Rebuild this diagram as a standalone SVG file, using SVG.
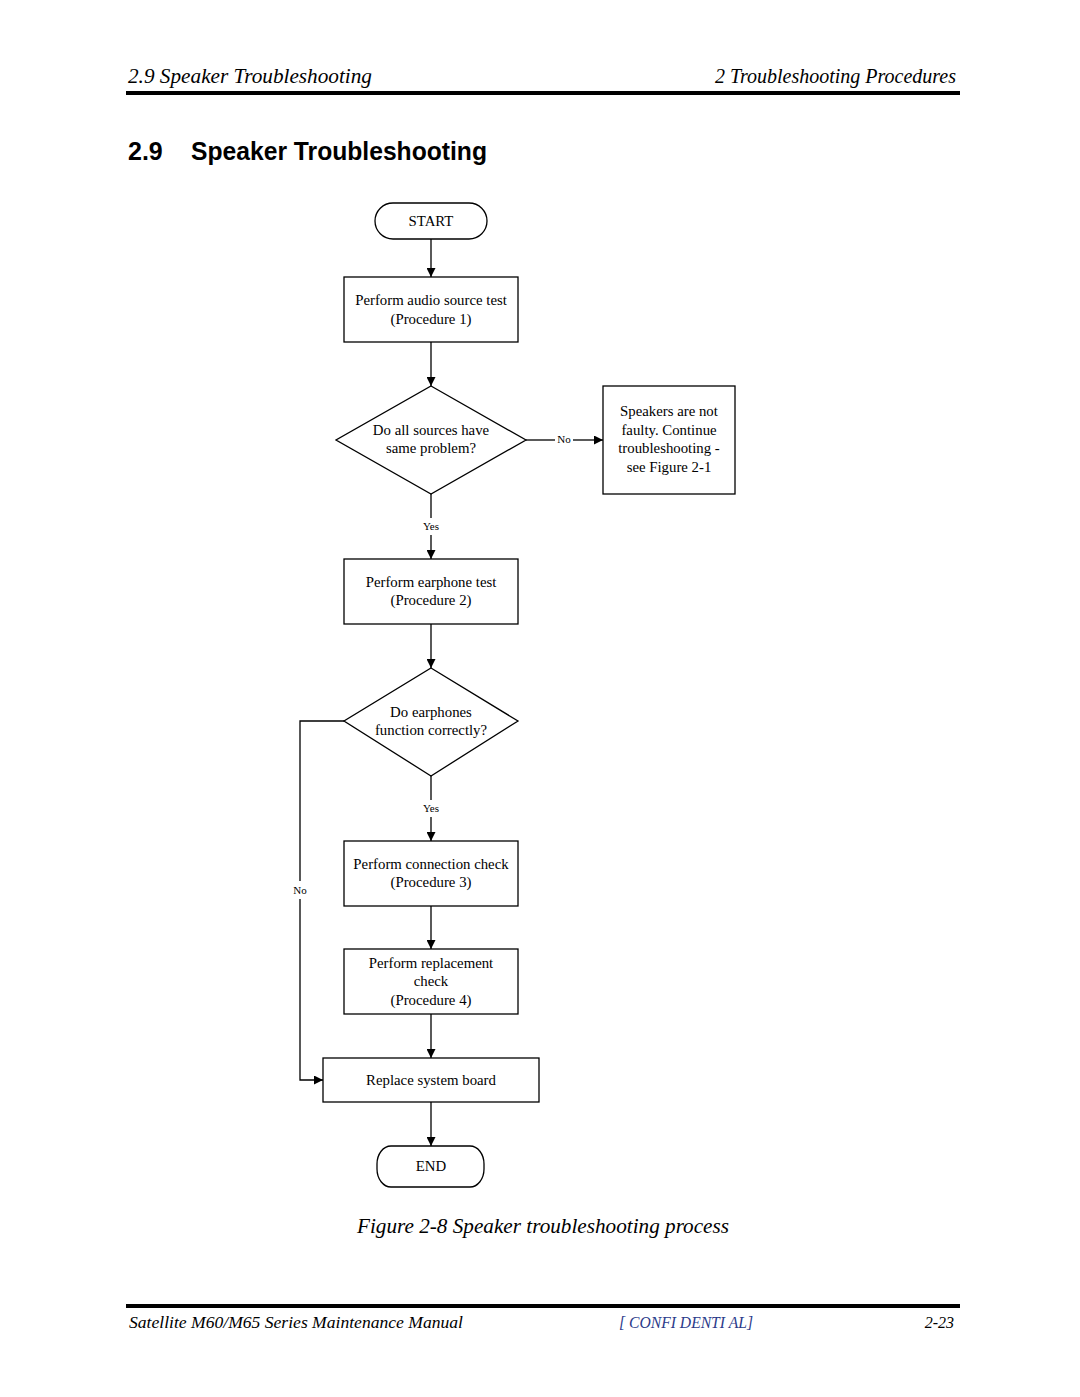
<svg xmlns="http://www.w3.org/2000/svg" width="1080" height="1397" viewBox="0 0 1080 1397">
<style>
.hdr{font-family:"Liberation Serif",serif;font-style:italic;font-size:20px;fill:#000}
.ttl{font-family:"Liberation Sans",Arial,sans-serif;font-weight:bold;font-size:25px;fill:#000}
.t{font-family:"Liberation Serif",serif;font-size:14.8px;fill:#000;text-anchor:middle}
.s{font-family:"Liberation Serif",serif;font-size:11px;fill:#000;text-anchor:middle}
.shape{fill:#fff;stroke:#000;stroke-width:1.3}
.ln{fill:none;stroke:#000;stroke-width:1.3}
.ftr{font-family:"Liberation Serif",serif;font-style:italic;font-size:16px;fill:#000}
</style>
<defs>
<marker id="ah" viewBox="0 0 10 10" refX="10" refY="5" markerWidth="10" markerHeight="9" markerUnits="userSpaceOnUse" orient="auto">
<path d="M0,0 L10,5 L0,10 Z" fill="#000"/>
</marker>
</defs>
<rect width="1080" height="1397" fill="#fff"/>
<text class="hdr" x="128" y="83" textLength="244" lengthAdjust="spacingAndGlyphs">2.9 Speaker Troubleshooting</text>
<text class="hdr" x="956" y="83" text-anchor="end">2 Troubleshooting Procedures</text>
<rect x="126" y="91" width="834" height="4" fill="#000"/>
<text class="ttl" x="128" y="160">2.9</text>
<text class="ttl" x="191" y="160" textLength="296" lengthAdjust="spacingAndGlyphs">Speaker Troubleshooting</text>

<g id="connectors">
<line class="ln" x1="431" y1="239" x2="431" y2="277" marker-end="url(#ah)"/>
<line class="ln" x1="431" y1="342" x2="431" y2="386" marker-end="url(#ah)"/>
<polyline class="ln" points="526,440 555,440"/>
<line class="ln" x1="573" y1="440" x2="603" y2="440" marker-end="url(#ah)"/>
<text class="s" x="564" y="443">No</text>
<line class="ln" x1="431" y1="494" x2="431" y2="518"/>
<text class="s" x="431" y="530">Yes</text>
<line class="ln" x1="431" y1="535" x2="431" y2="559" marker-end="url(#ah)"/>
<line class="ln" x1="431" y1="624" x2="431" y2="668" marker-end="url(#ah)"/>
<line class="ln" x1="431" y1="776" x2="431" y2="800"/>
<text class="s" x="431" y="812">Yes</text>
<line class="ln" x1="431" y1="817" x2="431" y2="841" marker-end="url(#ah)"/>
<polyline class="ln" points="344,721 300,721 300,881"/>
<text class="s" x="300" y="894">No</text>
<polyline class="ln" points="300,899 300,1080 323,1080" marker-end="url(#ah)"/>
<line class="ln" x1="431" y1="906" x2="431" y2="949" marker-end="url(#ah)"/>
<line class="ln" x1="431" y1="1014" x2="431" y2="1058" marker-end="url(#ah)"/>
<line class="ln" x1="431" y1="1102" x2="431" y2="1146" marker-end="url(#ah)"/>
</g>

<g id="start">
<rect class="shape" x="375" y="203" width="112" height="36" rx="18" ry="18"/>
<text class="t" x="431" y="226">START</text>
</g>
<g id="proc1">
<rect class="shape" x="344" y="277" width="174" height="65"/>
<text class="t" x="431" y="305">Perform audio source test</text>
<text class="t" x="431" y="324">(Procedure 1)</text>
</g>
<g id="dec1">
<polygon class="shape" points="431,386 526,440 431,494 336,440"/>
<text class="t" x="431" y="435">Do all sources have</text>
<text class="t" x="431" y="453">same problem?</text>
</g>
<g id="notfaulty">
<rect class="shape" x="603" y="386" width="132" height="108"/>
<text class="t" x="669" y="416">Speakers are not</text>
<text class="t" x="669" y="435">faulty. Continue</text>
<text class="t" x="669" y="453">troubleshooting -</text>
<text class="t" x="669" y="472">see Figure 2-1</text>
</g>
<g id="proc2">
<rect class="shape" x="344" y="559" width="174" height="65"/>
<text class="t" x="431" y="587">Perform earphone test</text>
<text class="t" x="431" y="605">(Procedure 2)</text>
</g>
<g id="dec2">
<polygon class="shape" points="431,668 518,721 431,776 344,721"/>
<text class="t" x="431" y="717">Do earphones</text>
<text class="t" x="431" y="735">function correctly?</text>
</g>
<g id="proc3">
<rect class="shape" x="344" y="841" width="174" height="65"/>
<text class="t" x="431" y="869">Perform connection check</text>
<text class="t" x="431" y="887">(Procedure 3)</text>
</g>
<g id="proc4">
<rect class="shape" x="344" y="949" width="174" height="65"/>
<text class="t" x="431" y="968">Perform replacement</text>
<text class="t" x="431" y="986">check</text>
<text class="t" x="431" y="1005">(Procedure 4)</text>
</g>
<g id="replace">
<rect class="shape" x="323" y="1058" width="216" height="44"/>
<text class="t" x="431" y="1085">Replace system board</text>
</g>
<g id="end">
<rect class="shape" x="377" y="1146" width="107" height="41" rx="14" ry="18"/>
<text class="t" x="431" y="1171">END</text>
</g>

<text x="543" y="1233" text-anchor="middle" font-family="Liberation Serif, serif" font-style="italic" font-size="21" textLength="372" lengthAdjust="spacingAndGlyphs">Figure 2-8 Speaker troubleshooting process</text>
<rect x="126" y="1304" width="834" height="4" fill="#000"/>
<text class="ftr" x="129" y="1328" textLength="334" lengthAdjust="spacingAndGlyphs">Satellite M60/M65 Series Maintenance Manual</text>
<text class="ftr" x="686" y="1328" text-anchor="middle" style="fill:#2b3a8a" textLength="134" lengthAdjust="spacingAndGlyphs">[ CONFI DENTI AL]</text>
<text class="ftr" x="954" y="1328" text-anchor="end">2-23</text>
</svg>
